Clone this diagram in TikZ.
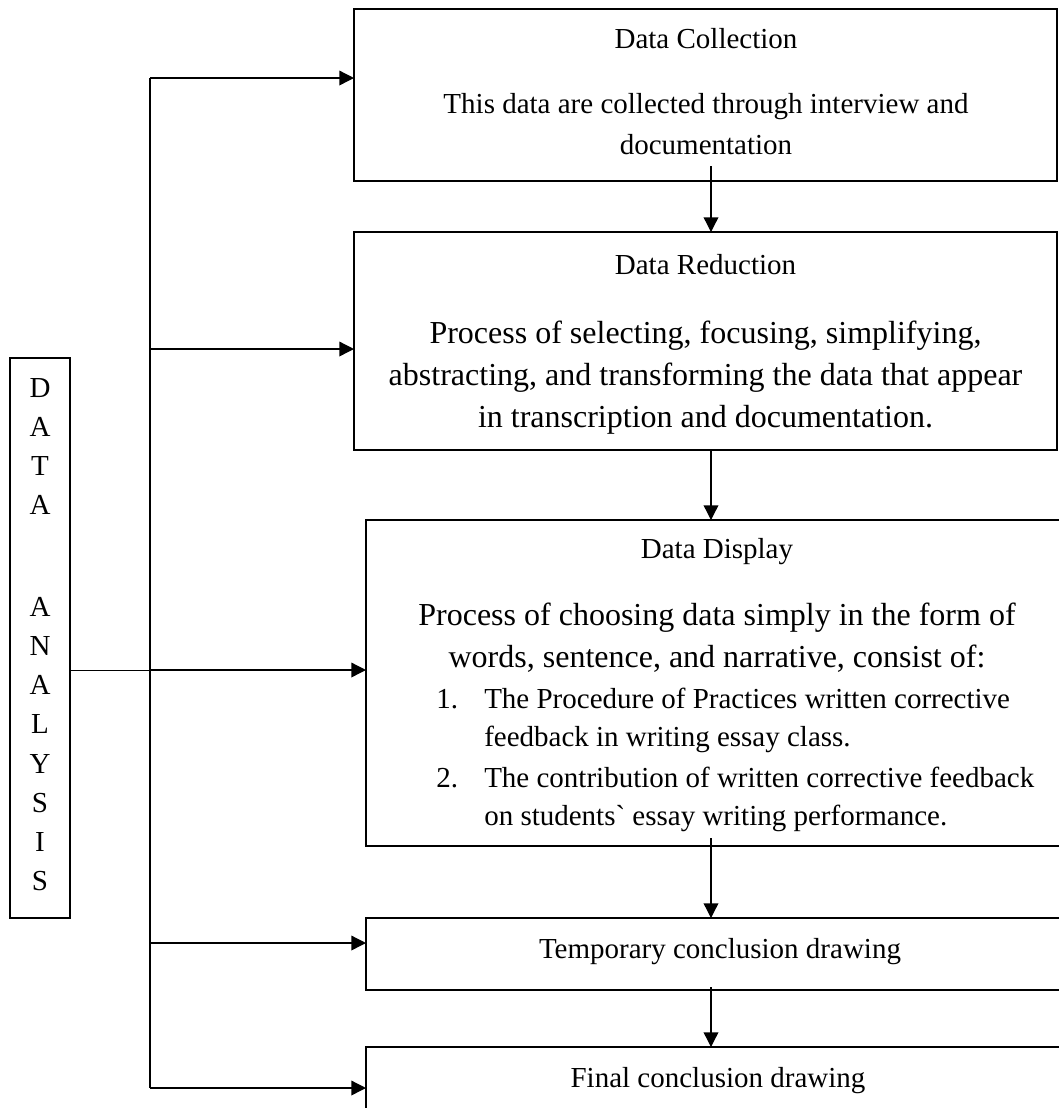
\documentclass[tikz,border=0pt]{standalone}
\usepackage{fontspec}
\setmainfont{Liberation Serif}
\setmonofont{Liberation Serif}
\usetikzlibrary{arrows.meta}
\newlength\pxu
\setlength\pxu{0.75pt}
\begin{document}
\begin{tikzpicture}[x=0.75pt,y=-0.75pt,
  box/.style={draw, line width=1pt, inner sep=0pt, outer sep=0pt, rectangle},
  arr/.style={line width=1pt, -{Triangle[length=11pt,width=11pt]}},
  ln/.style={line width=1pt},
  thinln/.style={line width=0.6pt},
  sm/.style={font=\fontsize{21.75}{26}\selectfont, inner sep=0pt},
  lg/.style={font=\fontsize{24}{29}\selectfont, inner sep=0pt},
]
\useasboundingbox (0,0) rectangle (1059,1108);
\clip (0,0) rectangle (1059,1108);

% boxes
\node[box, minimum width=703\pxu, minimum height=172\pxu] (b1) at (705.5,95) {};
\node[box, minimum width=703\pxu, minimum height=218\pxu] (b2) at (705.5,341) {};
\node[box, minimum width=704\pxu, minimum height=326\pxu] (b3) at (718,683) {};
\node[box, minimum width=704\pxu, minimum height=72\pxu] (b4) at (718,954) {};
\node[box, minimum width=704\pxu, minimum height=93\pxu] (b5) at (718,1093.5) {};
\node[box, minimum width=60\pxu, minimum height=560\pxu] (da) at (40,638) {};

% texts
\node[sm, anchor=base] (t1) at (706,48) {Data Collection};
\node[sm, anchor=base] (t1a) at (706,113) {This data are collected through interview and};
\node[sm, anchor=base] (t1b) at (706,154) {documentation};
\node[sm, anchor=base] (t2) at (705.5,274) {Data Reduction};
\node[lg, anchor=base] (t2a) at (705.5,343) {Process of selecting, focusing, simplifying,};
\node[lg, anchor=base] (t2b) at (705.5,385) {abstracting, and transforming the data that appear};
\node[lg, anchor=base] (t2c) at (705.5,427) {in transcription and documentation.};
\node[sm, anchor=base] (t3) at (717,558) {Data Display};
\node[lg, anchor=base] (t3a) at (717,625) {Process of choosing data simply in the form of};
\node[lg, anchor=base] (t3b) at (717,667) {words, sentence, and narrative, consist of:};
\node[sm, anchor=base west] (n1) at (436,708) {1.};
\node[sm, anchor=base west] (i1a) at (484,708) {The Procedure of Practices written corrective};
\node[sm, anchor=base west] (i1b) at (484,746) {feedback in writing essay class.};
\node[sm, anchor=base west] (n2) at (436,787) {2.};
\node[sm, anchor=base west] (i2a) at (484,787) {The contribution of written corrective feedback};
\node[sm, anchor=base west] (i2b) at (484,825) {on students{\ttfamily\symbol{96}} essay writing performance.};
\node[sm, anchor=base] (t4) at (720,958) {Temporary conclusion drawing};
\node[sm, anchor=base] (t5) at (718,1087) {Final conclusion drawing};

% vertical letters
\foreach \l/\y [count=\i] in {D/397,A/436,T/475,A/514,A/616,N/655,A/694,L/733,Y/773,S/812,I/851,S/890}
  \node[sm, anchor=base] (L\i) at (40,\y) {\l};

% trunk and branches
\coordinate (r1) at (150,78);
\coordinate (r2) at (150,349);
\coordinate (r3) at (150,670);
\coordinate (r4) at (150,943);
\coordinate (r5) at (150,1088);
\draw[ln] (r1) -- (r5);
\draw[arr] (r1) -- (r1 -| b1.west);
\draw[arr] (r2) -- (r2 -| b2.west);
\draw[thinln] (r3 -| da.east) -- (r3);
\draw[arr] (r3) -- (r3 -| b3.west);
\draw[arr] (r4) -- (r4 -| b4.west);
\draw[arr] (r5) -- (r5 -| b5.west);

% vertical arrows
\coordinate (v1) at (711,166);
\coordinate (v2) at (711,0);
\coordinate (v3) at (711,838);
\coordinate (v4) at (711,987);
\draw[arr] (v1) -- (v1 |- b2.north);
\draw[arr] (v2 |- b2.south) -- (v2 |- b3.north);
\draw[arr] (v3) -- (v3 |- b4.north);
\draw[arr] (v4) -- (v4 |- b5.north);
\end{tikzpicture}
\end{document}
